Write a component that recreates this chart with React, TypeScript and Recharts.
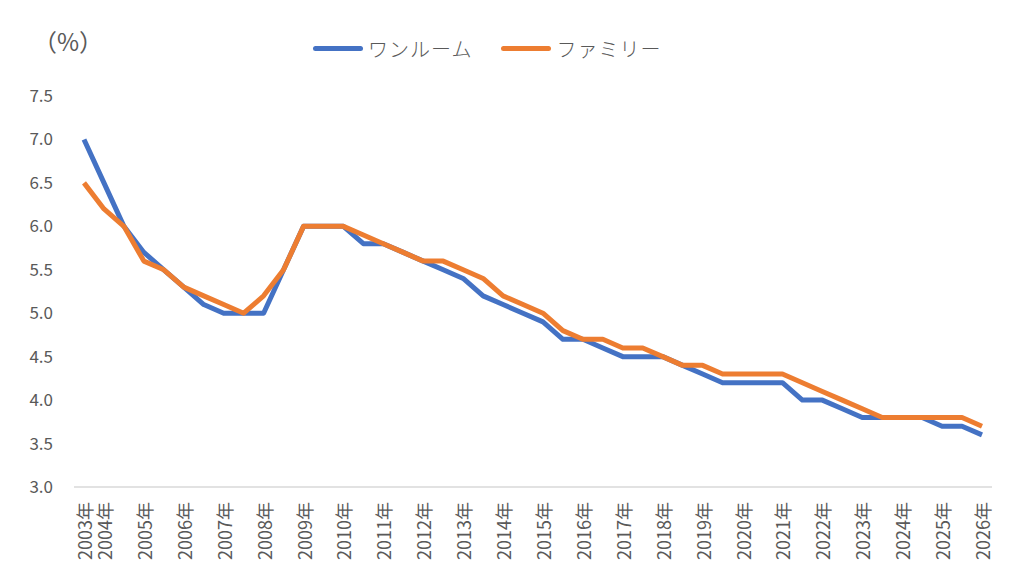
import { LineChart, Line, XAxis, YAxis, Legend } from 'recharts'

const periods = [
  '2003/10', '2004/04', '2004/10', '2005/04', '2005/10', '2006/04', '2006/10', '2007/04',
  '2007/10', '2008/04', '2008/10', '2009/04', '2009/10', '2010/04', '2010/10', '2011/04',
  '2011/10', '2012/04', '2012/10', '2013/04', '2013/10', '2014/04', '2014/10', '2015/04',
  '2015/10', '2016/04', '2016/10', '2017/04', '2017/10', '2018/04', '2018/10', '2019/04',
  '2019/10', '2020/04', '2020/10', '2021/04', '2021/10', '2022/04', '2022/10', '2023/04',
  '2023/10', '2024/04', '2024/10', '2025/04', '2025/10', '2026/04',
]

const yearLabels = [
  '2003年', '2004年', '', '2005年', '', '2006年', '', '2007年',
  '', '2008年', '', '2009年', '', '2010年', '', '2011年',
  '', '2012年', '', '2013年', '', '2014年', '', '2015年',
  '', '2016年', '', '2017年', '', '2018年', '', '2019年',
  '', '2020年', '', '2021年', '', '2022年', '', '2023年',
  '', '2024年', '', '2025年', '', '2026年',
]

const oneRoom = [
  7.0, 6.5, 6.0, 5.7, 5.5, 5.3, 5.1, 5.0,
  5.0, 5.0, 5.5, 6.0, 6.0, 6.0, 5.8, 5.8,
  5.7, 5.6, 5.5, 5.4, 5.2, 5.1, 5.0, 4.9,
  4.7, 4.7, 4.6, 4.5, 4.5, 4.5, 4.4, 4.3,
  4.2, 4.2, 4.2, 4.2, 4.0, 4.0, 3.9, 3.8,
  3.8, 3.8, 3.8, 3.7, 3.7, 3.6,
]

const family = [
  6.5, 6.2, 6.0, 5.6, 5.5, 5.3, 5.2, 5.1,
  5.0, 5.2, 5.5, 6.0, 6.0, 6.0, 5.9, 5.8,
  5.7, 5.6, 5.6, 5.5, 5.4, 5.2, 5.1, 5.0,
  4.8, 4.7, 4.7, 4.6, 4.6, 4.5, 4.4, 4.4,
  4.3, 4.3, 4.3, 4.3, 4.2, 4.1, 4.0, 3.9,
  3.8, 3.8, 3.8, 3.8, 3.8, 3.7,
]

const yTicks = [3.0, 3.5, 4.0, 4.5, 5.0, 5.5, 6.0, 6.5, 7.0, 7.5]

const BLUE = '#4472C4'
const ORANGE = '#ED7D31'
const TEXT = '#595959'
const FONT = '"Noto Sans CJK JP", "Noto Sans", sans-serif'

const data = periods.map((period, i) => ({
  period,
  oneRoom: oneRoom[i],
  family: family[i],
}))

function YearTick(props: any) {
  const { x, y, index, payload } = props
  const label = yearLabels[index ?? payload?.index] ?? ''
  if (!label) return null
  return (
    <text
      x={x}
      y={y}
      transform={`rotate(-90, ${x}, ${y})`}
      textAnchor="end"
      dominantBaseline="central"
      fill={TEXT}
      fontSize={18}
      fontFamily={FONT}
    >
      {label}
    </text>
  )
}

function LegendBox() {
  const items = [
    { name: 'ワンルーム', color: BLUE },
    { name: 'ファミリー', color: ORANGE },
  ]
  return (
    <div style={{ display: 'flex', alignItems: 'center', fontFamily: FONT, color: TEXT, fontSize: 20, fontWeight: 300 }}>
      {items.map((it, i) => (
        <div key={it.name} style={{ display: 'flex', alignItems: 'center', marginLeft: i ? 29 : 0 }}>
          <span
            style={{
              display: 'inline-block',
              width: 50,
              height: 5,
              borderRadius: 3,
              background: it.color,
              marginRight: 5,
            }}
          />
          <span style={{ letterSpacing: 1 }}>{it.name}</span>
        </div>
      ))}
    </div>
  )
}

export default function App() {
  return (
    <div style={{ width: 1024, height: 581, background: '#fff' }}>
      <style>{'body{margin:0}'}</style>
      <LineChart width={1024} height={581} data={data} margin={{ top: 96, right: 32, bottom: 0, left: 0 }}>
        <XAxis
          dataKey="period"
          interval={0}
          tick={<YearTick />}
          tickLine={false}
          tickSize={0}
          tickMargin={15}
          axisLine={{ stroke: '#D9D9D9', strokeWidth: 1.5 }}
          height={94}
          padding={{ left: 10, right: 10 }}
        />
        <YAxis
          type="number"
          domain={[3, 7.5]}
          ticks={yTicks}
          tickFormatter={(v: number) => v.toFixed(1)}
          axisLine={false}
          tickLine={false}
          tickSize={0}
          tickMargin={21}
          width={74}
          tick={{ fill: TEXT, fontSize: 17, fontFamily: FONT }}
          label={{
            content: () => (
              <text x={68} y={40} textAnchor="middle" dominantBaseline="central" fill={TEXT} fontSize={24} fontFamily={FONT}>
                （%）
              </text>
            ),
          }}
        />
        <Legend
          layout="horizontal"
          verticalAlign="middle"
          align="center"
          content={<LegendBox />}
          wrapperStyle={{ top: 34, left: 313, width: 'auto' }}
        />
        <Line
          type="linear"
          dataKey="oneRoom"
          name="ワンルーム"
          stroke={BLUE}
          strokeWidth={5}
          strokeLinejoin="round"
          dot={false}
          isAnimationActive={false}
        />
        <Line
          type="linear"
          dataKey="family"
          name="ファミリー"
          stroke={ORANGE}
          strokeWidth={5}
          strokeLinejoin="round"
          dot={false}
          isAnimationActive={false}
        />
      </LineChart>
    </div>
  )
}
